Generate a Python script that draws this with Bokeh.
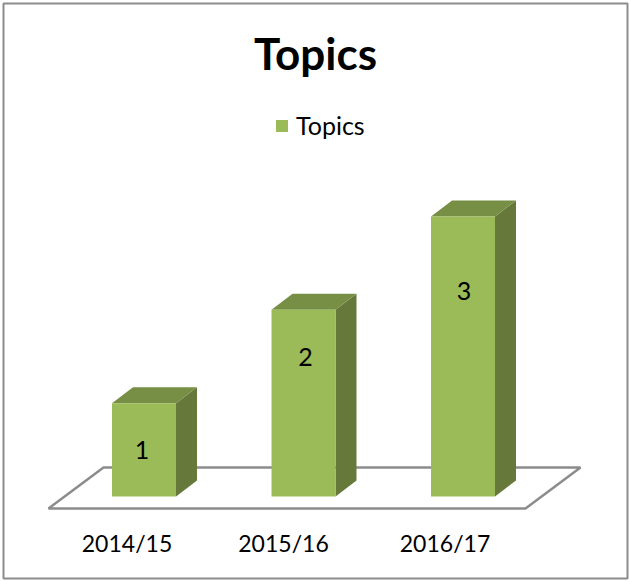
from bokeh.embed import file_html
from bokeh.resources import INLINE
from bokeh.plotting import figure
from bokeh.models import ColumnDataSource, Range1d, Label, BoxAnnotation, Legend, LegendItem
from bokeh.core.properties import value

categories = ["2014/15", "2015/16", "2016/17"]
topics = [1, 2, 3]
positions = [0, 1, 2]
data_labels = ["1", "2", "3"]
data_label_y = [0.5, 1.5, 2.2]

W, H = 629, 581
PX_X = 159.5   # pixels per category
PX_Y = 93.33   # pixels per topic
X0, Y0 = 143.5, 496  # pixel of first category / value zero

half = 32 / PX_X
dx = 21 / PX_X
dy = 16 / PX_Y

FRONT, TOP, SIDE = "#9BBB59", "#778E45", "#66793A"
GREY = "#8C8C8C"
FONT = "Lato"

p = figure(width=W, height=H, output_backend="svg", toolbar_location=None,
           x_range=Range1d(-X0 / PX_X, (W - X0) / PX_X),
           y_range=Range1d((Y0 - H) / PX_Y, Y0 / PX_Y),
           min_border=0, x_axis_type=None, y_axis_type=None,
           background_fill_color="white", border_fill_color="white", outline_line_color=None)
p.grid.visible = False

p.add_layout(BoxAnnotation(left=3, right=627, top=3, bottom=578,
                           left_units="screen", right_units="screen",
                           top_units="screen", bottom_units="screen",
                           fill_color=None, line_color=GREY, line_alpha=1.0, line_width=2))

# floor
fy0, fy1 = -12 / PX_Y, 29 / PX_Y
fxl = -95.5 / PX_X
p.patch([fxl, fxl + 55 / PX_X, fxl + 532 / PX_X, fxl + 477 / PX_X],
        [fy0, fy1, fy1, fy0], fill_color="white", line_color=GREY, line_width=2.5)

for x, v in zip(positions, topics):
    p.patch([x + half, x + half + dx, x + half + dx, x + half],
            [0, dy, v + dy, v], fill_color=SIDE, line_color=None)
    p.patch([x - half, x + half, x + half + dx, x - half + dx],
            [v, v, v + dy, v + dy], fill_color=TOP, line_color=None)

src = ColumnDataSource(dict(x=positions, top=topics, lab=data_labels, laby=data_label_y,
                            labxoff=[-2, 2, 1]))
bars = p.vbar(x="x", top="top", bottom=0, width=2 * half, source=src,
              fill_color=FRONT, line_color=None)

p.text(x="x", y="laby", text="lab", source=src, x_offset="labxoff", text_align="center",
       text_baseline="middle", text_font=value(FONT), text_font_size="25px", text_color="black")

cat_y = [(Y0 - 542) / PX_Y] * 3
src2 = ColumnDataSource(dict(x=positions, y=cat_y, cat=categories, xoff=[-17, -20, -18]))
p.text(x="x", y="y", text="cat", source=src2, x_offset="xoff", text_align="center",
       text_baseline="middle", text_font=value(FONT), text_font_size="23px", text_color="black")

p.add_layout(Label(x=315, y=H - 52, x_units="screen", y_units="screen", text="Topics",
                   text_align="center", text_baseline="middle", text_font=FONT,
                   text_font_size="44px", text_font_style="bold", text_color="black"))

legend = Legend(items=[LegendItem(label="Topics", renderers=[bars])],
                location=(274, H - 140), orientation="horizontal",
                glyph_width=15, glyph_height=15, label_text_font=FONT,
                label_text_font_size="25px", label_text_color="black",
                border_line_color=None, background_fill_alpha=0, padding=8, margin=0, label_standoff=7)
p.add_layout(legend)

open("out.html", "w").write(file_html(p, INLINE))
